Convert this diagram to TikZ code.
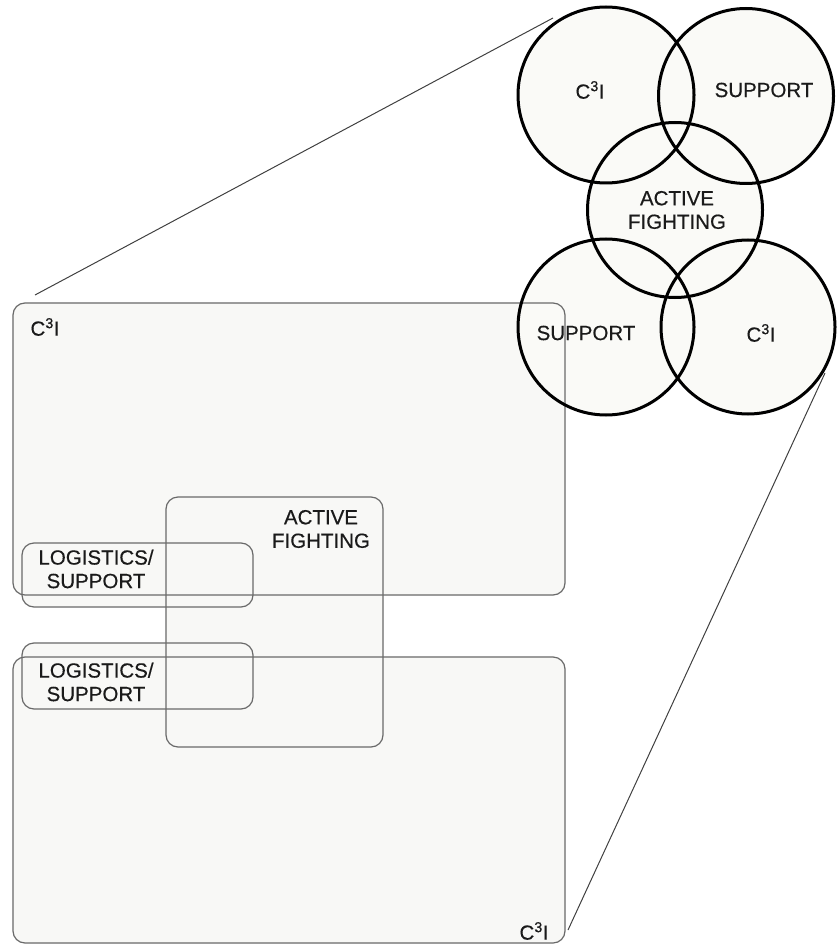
\documentclass[tikz,border=0pt]{standalone}
\usepackage{fontspec}
\setmainfont{Liberation Sans}
\newfontfamily\labfont[FakeBold=0.4]{Liberation Sans}
\usetikzlibrary{backgrounds}
\definecolor{boxline}{HTML}{6A6A6A}
\definecolor{boxfill}{HTML}{F8F8F6}
\definecolor{circfill}{HTML}{FAFAF7}
\definecolor{ink}{HTML}{1A1A1A}
\tikzset{
  box/.style={draw=boxline, line width=1.2pt, rounded corners=12pt, inner sep=0pt},
  circ/.style={circle, draw=black, line width=3pt, inner sep=0pt, minimum size=#1},
  lbl/.style={font=\labfont\fontsize{20.5}{23.5}\selectfont, text=ink, align=center, inner sep=0pt},
  conn/.style={draw=black!75, line width=1pt},
}
\begin{document}
\begin{tikzpicture}[x=1pt, y=-1pt]
\useasboundingbox (0,0) rectangle (838,949);
% rectangles
\node[box, minimum width=552pt, minimum height=292pt] (B1) at (289,449) {};
\node[box, minimum width=552pt, minimum height=286pt] (B2) at (289,800) {};
\node[box, minimum width=217pt, minimum height=250pt] (AF) at (274.5,622) {};
\node[box, minimum width=231pt, minimum height=64pt] (L1) at (137.5,575) {};
\node[box, minimum width=231pt, minimum height=66pt] (L2) at (137.5,676) {};
% circles
\node[circ=176pt] (c1) at (606,95) {};
\node[circ=175pt] (c2) at (746,96) {};
\node[circ=175pt] (c3) at (675,210) {};
\node[circ=176pt] (c4) at (606,327) {};
\node[circ=174pt] (c5) at (748,327) {};
% fills behind
\begin{scope}[on background layer]
  \foreach \n in {B1,B2,AF,L1,L2}
    \fill[boxfill, rounded corners=12pt] (\n.south west) rectangle (\n.north east);
  \foreach \n in {c1,c2,c3,c4,c5}
    \fill[circfill] (\n.center) circle [radius=86pt];
\end{scope}
% labels
\node[lbl] (t1) at (45,327) {C\textsuperscript{3}I};
\node[lbl] (t2) at (534,931) {C\textsuperscript{3}I};
\node[lbl] (tAF) at (321,529) {ACTIVE\\FIGHTING};
\node[lbl] (tL1) at (96,569) {LOGISTICS/\\SUPPORT};
\node[lbl] (tL2) at (96,682) {LOGISTICS/\\SUPPORT};
\node[lbl] (tc1) at (590,90) {C\textsuperscript{3}I};
\node[lbl] (tc2) at (764,90) {SUPPORT};
\node[lbl] (tc3) at (677,210) {ACTIVE\\FIGHTING};
\node[lbl] (tc4) at (586,333) {SUPPORT};
\node[lbl] (tc5) at (761,333) {C\textsuperscript{3}I};
% connectors
\coordinate (p1) at (553,18);
\coordinate (q1) at (35,295);
\coordinate (p2) at (825,373);
\coordinate (q2) at (568,930);
\draw[conn] (p1) -- (q1);
\draw[conn] (p2) -- (q2);
\end{tikzpicture}
\end{document}
